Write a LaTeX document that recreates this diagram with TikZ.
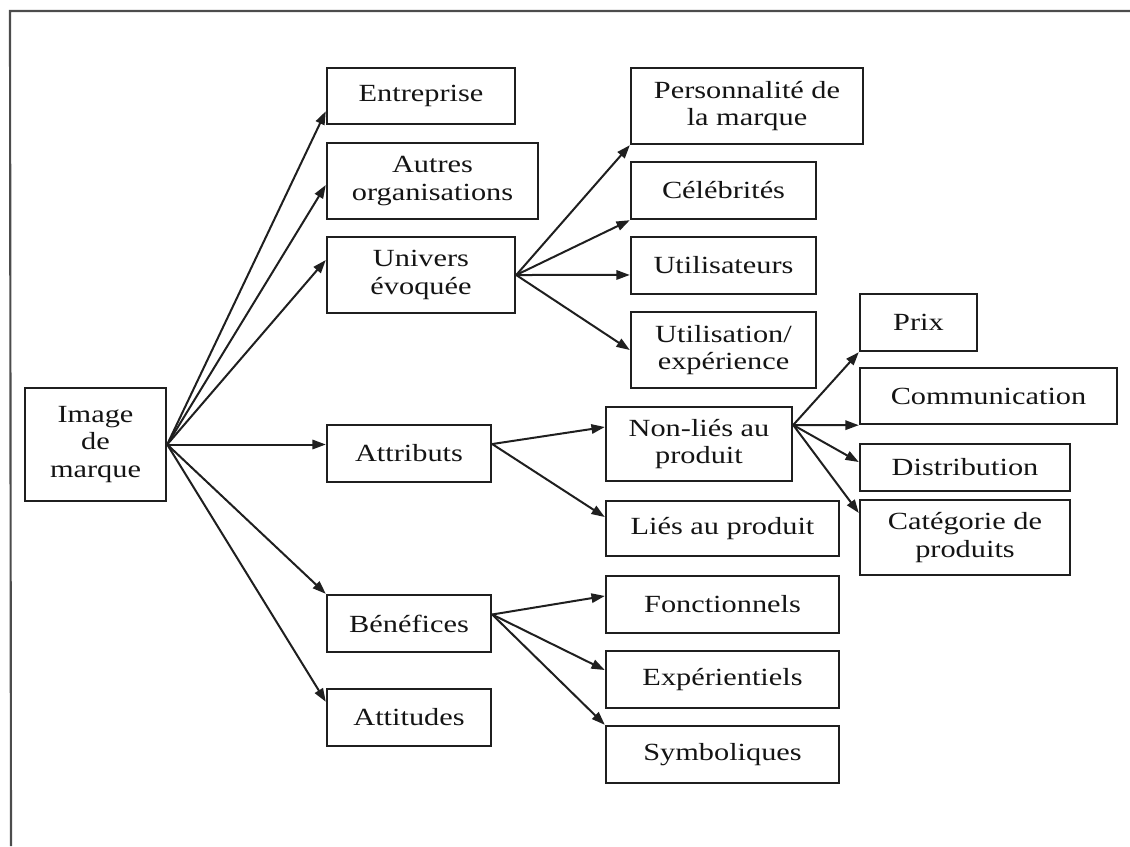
\documentclass[tikz,border=0pt]{standalone}
\usepackage{fontspec}
\setmainfont{Liberation Serif}[FakeStretch=1.23]
\usetikzlibrary{arrows.meta}
\begin{document}
\begin{tikzpicture}[x=0.75pt,y=-0.75pt,
  box/.style={draw=black!88, line width=1.8pt, align=center, inner sep=0pt,
    font=\fontsize{18.5pt}{20.8pt}\selectfont, text=black!92},
  link/.style={draw=black!88, line width=1.5pt, -{Triangle[length=10pt,width=7pt]}},
  frame/.style={draw=black!70, line width=1.6pt},
]
\useasboundingbox (0,0) rectangle (1130,846);

% outer frame (top and left edges only)
\coordinate (ftr) at (1130,11);
\coordinate (ftl) at (10,11);
\coordinate (fbl) at (11,846);
\draw[frame] (ftr) -- (ftl) -- (fbl);

% root
\node[box, minimum width=105.75pt, minimum height=84.75pt] (img) at (95.5,444.5) {Image\\de\\marque};

% first level
\node[box, minimum width=141pt,    minimum height=42pt]    (ent) at (421,96)    {Entreprise};
\node[box, minimum width=158.25pt, minimum height=57pt]    (aut) at (432.5,181) {Autres\\organisations};
\node[box, minimum width=141pt,    minimum height=57pt]    (uni) at (421,275)   {Univers\\évoquée};
\node[box, minimum width=123pt,    minimum height=42.75pt] (att) at (409,453.5) {Attributs};
\node[box, minimum width=123pt,    minimum height=42.75pt] (ben) at (409,623.5) {Bénéfices};
\node[box, minimum width=123pt,    minimum height=42.75pt] (atd) at (409,717.5) {Attitudes};

% second level
\node[box, minimum width=174pt,    minimum height=57pt]    (per) at (747,106)   {Personnalité de\\la marque};
\node[box, minimum width=138.75pt, minimum height=42.75pt] (cel) at (723.5,190.5) {Célébrités};
\node[box, minimum width=138.75pt, minimum height=42.75pt] (uti) at (723.5,265.5) {Utilisateurs};
\node[box, minimum width=138.75pt, minimum height=57pt]    (usg) at (723.5,350) {Utilisation/\\expérience};
\node[box, minimum width=139.5pt,  minimum height=55.5pt]  (nli) at (699,444)   {Non-liés au\\produit};
\node[box, minimum width=174.75pt, minimum height=41.25pt] (lie) at (722.5,528.5) {Liés au produit};
\node[box, minimum width=174.75pt, minimum height=42.75pt] (fon) at (722.5,604.5) {Fonctionnels};
\node[box, minimum width=174.75pt, minimum height=42.75pt] (exp) at (722.5,679.5) {Expérientiels};
\node[box, minimum width=174.75pt, minimum height=42.75pt] (sym) at (722.5,754.5) {Symboliques};

% third level
\node[box, minimum width=87.75pt,  minimum height=42.75pt] (prx) at (918.5,322.5) {Prix};
\node[box, minimum width=192.75pt, minimum height=42pt]    (com) at (988.5,396) {Communication};
\node[box, minimum width=157.5pt,  minimum height=35.25pt] (dis) at (965,467.5) {Distribution};
\node[box, minimum width=157.5pt,  minimum height=56.25pt] (cat) at (965,537.5) {Catégorie de\\produits};

% links from the root
\draw[link] (img.east) -- ([yshift=10.5pt]ent.south west);
\draw[link] (img.east) -- ([yshift=-3pt]aut.west);
\draw[link] (img.east) -- ([yshift=11.25pt]uni.west);
\draw[link] (img.east) -- ([yshift=6.75pt]att.west);
\draw[link] (img.east) -- (ben.north west);
\draw[link] (img.east) -- ([yshift=-10.5pt]atd.north west);

% links from Univers évoquée
\draw[link] (uni.east) -- (per.south west);
\draw[link] (uni.east) -- (cel.south west);
\draw[link] (uni.east) -- ([yshift=-7.1pt]uti.west);
\draw[link] (uni.east) -- (usg.west);

% links from Attributs
\coordinate (attout) at ([yshift=7.1pt]att.east);
\draw[link] (attout) -- ([yshift=12.75pt]nli.west);
\draw[link] (attout) -- ([yshift=8.6pt]lie.west);

% links from Bénéfices
\coordinate (benout) at ([yshift=6.75pt]ben.east);
\draw[link] (benout) -- ([yshift=6.4pt]fon.west);
\draw[link] (benout) -- ([yshift=7.1pt]exp.west);
\draw[link] (benout) -- (sym.north west);

% links from Non-liés au produit
\coordinate (nliout) at ([yshift=14.25pt]nli.east);
\draw[link] (nliout) -- (prx.south west);
\draw[link] (nliout) -- (com.south west);
\draw[link] (nliout) -- ([yshift=4.1pt]dis.west);
\draw[link] (nliout) -- ([yshift=18.4pt]cat.west);
\end{tikzpicture}
\end{document}
